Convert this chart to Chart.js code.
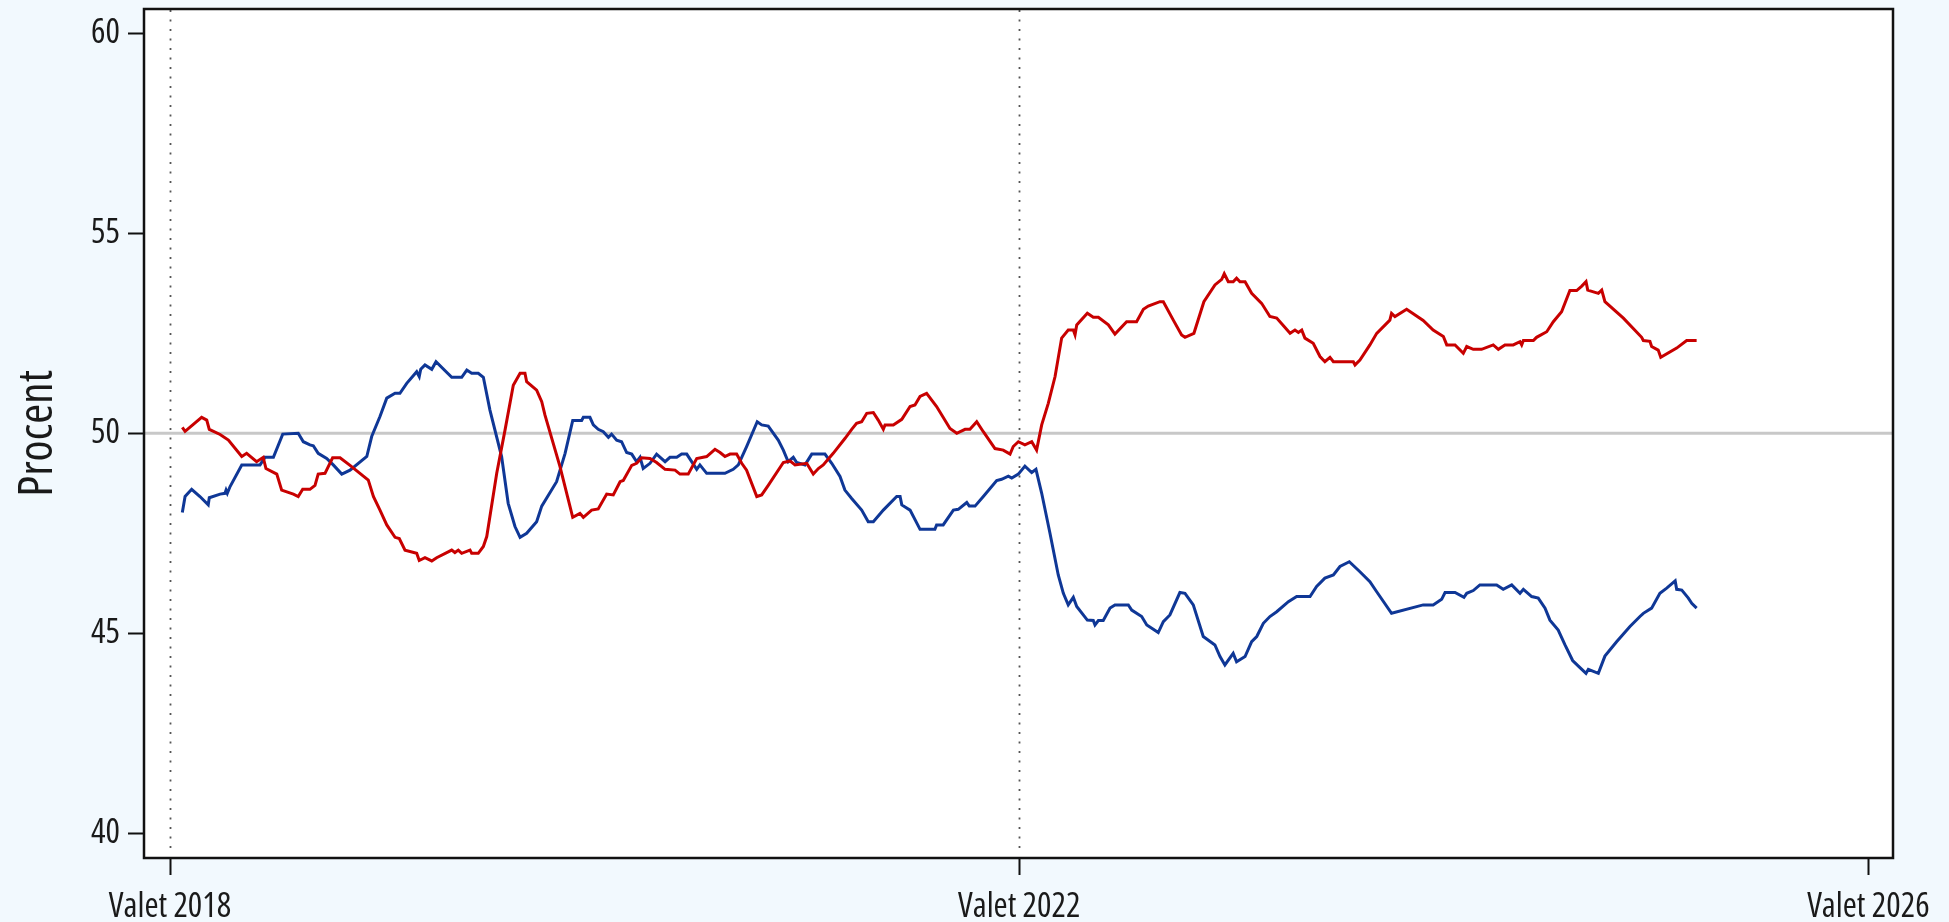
<!DOCTYPE html>
<html>
<head>
<meta charset="utf-8">
<script src="https://cdn.jsdelivr.net/npm/chart.js@4.4.1/dist/chart.umd.min.js"></script>
<style>
  html, body { margin: 0; padding: 0; background: #f2f9fe; }
  #wrap { width: 1949px; height: 922px; position: relative; }
</style>
</head>
<body>
<div id="wrap"><canvas id="c" width="1949" height="922"></canvas></div>
<script>
// x values: years after "Valet 2018" (election Sept 2018)
const xTickValues = [0, 4, 8];
const xTickLabels = ['Valet 2018', 'Valet 2022', 'Valet 2026'];
const yTickValues = [40, 45, 50, 55, 60];
const referenceLevel = 50;
const electionMarks = [0, 4];

const redT = [
  0.058,0.071,0.149,0.173,0.185,0.236,0.275,0.338,0.361,0.408,
  0.439,0.452,0.503,0.526,0.581,0.604,0.625,0.659,0.683,0.698,
  0.730,0.766,0.801,0.848,0.934,0.958,0.989,1.021,1.060,1.080,
  1.107,1.162,1.174,1.201,1.233,1.256,1.327,1.342,1.358,1.374,
  1.413,1.421,1.452,1.476,1.492,1.539,1.578,1.617,1.649,1.672,
  1.680,1.727,1.751,1.766,1.837,1.897,1.931,1.947,1.986,2.017,
  2.057,2.088,2.120,2.135,2.175,2.198,2.222,2.261,2.292,2.332,
  2.379,2.402,2.441,2.481,2.528,2.567,2.591,2.614,2.638,2.669,
  2.693,2.716,2.764,2.787,2.818,2.889,2.920,2.944,2.999,3.030,
  3.054,3.077,3.124,3.179,3.211,3.234,3.258,3.282,3.313,3.336,
  3.360,3.368,3.407,3.447,3.486,3.509,3.533,3.564,3.611,3.674,
  3.706,3.745,3.768,3.800,3.831,3.886,3.925,3.957,3.972,3.996,
  4.027,4.059,4.082,4.106,4.137,4.169,4.200,4.231,4.255,4.263,
  4.271,4.321,4.349,4.373,4.420,4.451,4.506,4.553,4.585,4.608,
  4.663,4.679,4.726,4.765,4.781,4.823,4.870,4.922,4.954,4.966,
  4.985,5.008,5.024,5.040,5.064,5.095,5.142,5.181,5.213,5.276,
  5.299,5.315,5.331,5.346,5.385,5.417,5.440,5.464,5.480,5.574,
  5.582,5.605,5.652,5.684,5.746,5.754,5.770,5.825,5.903,5.950,
  5.998,6.014,6.053,6.092,6.108,6.139,6.178,6.233,6.257,6.288,
  6.327,6.359,6.367,6.375,6.422,6.437,6.485,6.516,6.555,6.594,
  6.626,6.650,6.670,6.678,6.728,6.744,6.759,6.846,6.932,6.940,
  6.971,6.979,7.010,7.022,7.097,7.144,7.191
];
const redV = [
  50.15,50.05,50.4,50.33,50.1,49.97,49.83,49.42,49.5,49.29,
  49.4,49.12,48.98,48.58,48.48,48.42,48.6,48.6,48.7,48.98,
  49.0,49.39,49.39,49.2,48.83,48.42,48.08,47.71,47.4,47.37,
  47.08,47.0,46.82,46.89,46.81,46.89,47.08,47.02,47.08,47.0,
  47.08,47.0,47.0,47.17,47.42,49.0,50.08,51.2,51.5,51.5,
  51.29,51.08,50.79,50.46,49.17,47.9,48.0,47.9,48.08,48.11,
  48.48,48.46,48.79,48.82,49.2,49.25,49.39,49.37,49.27,49.1,
  49.08,48.98,48.98,49.37,49.42,49.6,49.52,49.42,49.48,49.48,
  49.25,49.08,48.42,48.46,48.7,49.27,49.31,49.21,49.25,48.98,
  49.12,49.21,49.5,49.87,50.1,50.25,50.29,50.5,50.52,50.33,
  50.1,50.21,50.21,50.35,50.67,50.71,50.92,51.0,50.67,50.12,
  50.0,50.1,50.1,50.29,50.04,49.62,49.58,49.48,49.67,49.79,
  49.71,49.79,49.58,50.21,50.75,51.42,52.38,52.58,52.58,52.46,
  52.71,53.0,52.9,52.9,52.71,52.48,52.79,52.79,53.1,53.18,
  53.29,53.29,52.83,52.46,52.4,52.5,53.29,53.71,53.85,53.99,
  53.79,53.79,53.88,53.79,53.79,53.5,53.25,52.92,52.88,52.5,
  52.58,52.52,52.58,52.38,52.25,51.92,51.79,51.9,51.79,51.79,
  51.71,51.83,52.21,52.5,52.83,53.0,52.92,53.1,52.82,52.58,
  52.42,52.21,52.21,52.0,52.17,52.1,52.1,52.21,52.1,52.21,
  52.21,52.29,52.21,52.32,52.32,52.4,52.54,52.79,53.04,53.57,
  53.57,53.68,53.79,53.58,53.5,53.58,53.29,52.88,52.4,52.32,
  52.3,52.17,52.08,51.9,52.13,52.32,52.32
];

const blueT = [
  0.058,0.071,0.102,0.141,0.180,0.185,0.236,0.259,0.264,0.270,
  0.283,0.338,0.424,0.447,0.487,0.531,0.604,0.628,0.659,0.675,
  0.698,0.738,0.769,0.809,0.848,0.927,0.950,0.989,1.021,1.060,
  1.083,1.115,1.162,1.174,1.181,1.201,1.233,1.253,1.327,1.374,
  1.398,1.421,1.452,1.476,1.507,1.562,1.593,1.625,1.649,1.680,
  1.727,1.751,1.821,1.861,1.897,1.939,1.947,1.978,1.994,2.017,
  2.041,2.065,2.080,2.104,2.127,2.151,2.175,2.198,2.214,2.229,
  2.261,2.292,2.332,2.355,2.387,2.410,2.434,2.481,2.496,2.528,
  2.614,2.653,2.677,2.716,2.766,2.787,2.818,2.865,2.889,2.912,
  2.936,2.952,2.991,3.023,3.085,3.117,3.156,3.179,3.211,3.258,
  3.289,3.313,3.360,3.423,3.439,3.447,3.486,3.533,3.603,3.611,
  3.642,3.690,3.713,3.753,3.765,3.792,3.831,3.894,3.917,3.949,
  3.965,3.996,4.027,4.059,4.079,4.106,4.145,4.184,4.208,4.231,
  4.255,4.271,4.321,4.349,4.357,4.373,4.396,4.428,4.451,4.514,
  4.530,4.577,4.601,4.655,4.679,4.710,4.757,4.781,4.820,4.867,
  4.922,4.946,4.969,5.008,5.024,5.064,5.095,5.119,5.150,5.181,
  5.213,5.268,5.307,5.370,5.401,5.440,5.480,5.511,5.555,5.605,
  5.652,5.684,5.754,5.903,5.950,5.990,6.006,6.053,6.095,6.108,
  6.139,6.170,6.249,6.280,6.320,6.359,6.375,6.414,6.445,6.477,
  6.500,6.539,6.571,6.607,6.634,6.670,6.681,6.728,6.759,6.814,
  6.877,6.924,6.940,6.979,7.018,7.050,7.090,7.097,7.121,7.152,
  7.168,7.191
];
const blueV = [
  48.02,48.42,48.6,48.42,48.21,48.39,48.48,48.5,48.58,48.5,
  48.67,49.21,49.21,49.4,49.4,49.98,50.0,49.79,49.71,49.69,
  49.5,49.37,49.21,48.98,49.08,49.42,49.92,50.42,50.88,51.0,
  51.0,51.25,51.54,51.42,51.6,51.71,51.6,51.79,51.4,51.4,
  51.58,51.5,51.5,51.4,50.58,49.42,48.25,47.67,47.4,47.5,
  47.79,48.18,48.79,49.5,50.32,50.32,50.4,50.4,50.21,50.1,
  50.04,49.9,49.98,49.83,49.79,49.52,49.48,49.29,49.4,49.12,
  49.25,49.48,49.29,49.4,49.4,49.48,49.48,49.1,49.21,49.0,
  49.0,49.1,49.21,49.67,50.29,50.21,50.18,49.83,49.58,49.29,
  49.4,49.27,49.21,49.48,49.48,49.25,48.92,48.58,48.37,48.08,
  47.79,47.79,48.08,48.42,48.42,48.21,48.08,47.6,47.6,47.71,
  47.71,48.08,48.1,48.27,48.18,48.18,48.42,48.82,48.85,48.93,
  48.88,48.98,49.18,49.02,49.1,48.5,47.5,46.46,46.0,45.71,
  45.9,45.67,45.33,45.32,45.21,45.32,45.32,45.63,45.71,45.71,
  45.58,45.42,45.21,45.02,45.29,45.46,46.02,46.0,45.71,44.92,
  44.71,44.42,44.21,44.5,44.29,44.42,44.79,44.92,45.25,45.42,
  45.54,45.79,45.92,45.92,46.17,46.38,46.46,46.67,46.79,46.54,
  46.29,46.04,45.5,45.71,45.71,45.85,46.02,46.02,45.9,46.0,
  46.07,46.21,46.21,46.1,46.21,46.0,46.1,45.92,45.88,45.63,
  45.33,45.08,44.71,44.32,44.18,44.0,44.1,44.0,44.43,44.79,
  45.17,45.42,45.5,45.63,46.0,46.13,46.31,46.1,46.08,45.88,
  45.75,45.63
];

const FONT = '"Open Sans", "Liberation Sans", sans-serif';
const toPoints = (ts, vs) => ts.map((t, i) => ({ x: t, y: vs[i] }));

const decor = {
  id: 'decor',
  beforeDraw(chart) {
    const { ctx, chartArea: a } = chart;
    ctx.save();
    ctx.fillStyle = '#f2f9fe';
    ctx.fillRect(0, 0, chart.width, chart.height);
    ctx.fillStyle = '#ffffff';
    ctx.fillRect(a.left, a.top, a.right - a.left, a.bottom - a.top);
    ctx.restore();
  },
  beforeDatasetsDraw(chart) {
    const { ctx, chartArea: a, scales: { x, y } } = chart;
    ctx.save();
    const y50 = y.getPixelForValue(referenceLevel);
    ctx.strokeStyle = '#c8c8c8';
    ctx.lineWidth = 3;
    ctx.beginPath();
    ctx.moveTo(a.left, y50);
    ctx.lineTo(a.right, y50);
    ctx.stroke();
    ctx.strokeStyle = '#555555';
    ctx.lineWidth = 1.8;
    ctx.setLineDash([2, 7.5]);
    electionMarks.forEach(v => {
      const px = Math.round(x.getPixelForValue(v)) + 0.5;
      ctx.beginPath();
      ctx.moveTo(px, a.top + 1);
      ctx.lineTo(px, a.bottom - 6);
      ctx.stroke();
    });
    ctx.restore();
  },
  afterDraw(chart) {
    const { ctx, chartArea: a } = chart;
    ctx.save();
    ctx.strokeStyle = '#111111';
    ctx.lineWidth = 2.5;
    ctx.strokeRect(a.left, a.top, a.right - a.left, a.bottom - a.top);
    ctx.restore();
  }
};

new Chart(document.getElementById('c'), {
  type: 'line',
  data: {
    datasets: [
      { label: 'Röda', data: toPoints(redT, redV), borderColor: '#c80000', borderWidth: 3, pointRadius: 0, tension: 0, fill: false },
      { label: 'Blå', data: toPoints(blueT, blueV), borderColor: '#0f3796', borderWidth: 3, pointRadius: 0, tension: 0, fill: false }
    ]
  },
  options: {
    responsive: false,
    animation: false,
    events: [],
    layout: { padding: { top: 9, right: 56, left: 0, bottom: 0 } },
    plugins: { legend: { display: false }, tooltip: { enabled: false } },
    scales: {
      x: {
        type: 'linear',
        min: -0.1225,
        max: 8.116,
        afterBuildTicks: s => { s.ticks = xTickValues.map(v => ({ value: v })); },
        afterFit: s => { s.height = 64; s.paddingLeft = 0; s.paddingRight = 0; },
        ticks: {
          autoSkip: false, maxRotation: 0, padding: 12,
          color: '#1a1a1a',
          font: { family: FONT, size: 34, weight: '400 condensed' },
          callback: v => xTickLabels[xTickValues.indexOf(v)]
        },
        grid: { drawOnChartArea: false, drawTicks: true, tickLength: 17, tickColor: '#111', tickWidth: 2 },
        border: { display: false }
      },
      y: {
        type: 'linear',
        min: 39.383,
        max: 60.608,
        afterBuildTicks: s => { s.ticks = yTickValues.map(v => ({ value: v })); },
        afterFit: s => { s.width = 144; s.paddingTop = 0; s.paddingBottom = 0; },
        ticks: {
          padding: 8,
          color: '#1a1a1a',
          font: { family: FONT, size: 34, weight: '400 condensed' },
          callback: v => String(v)
        },
        grid: { drawOnChartArea: false, drawTicks: true, tickLength: 16, tickColor: '#111', tickWidth: 2 },
        border: { display: false },
        title: {
          display: true,
          text: 'Procent',
          color: '#1a1a1a',
          font: { family: FONT, size: 48, weight: '400 condensed' },
          padding: { top: 10, bottom: 0 }
        }
      }
    }
  },
  plugins: [decor]
});
</script>
</body>
</html>
